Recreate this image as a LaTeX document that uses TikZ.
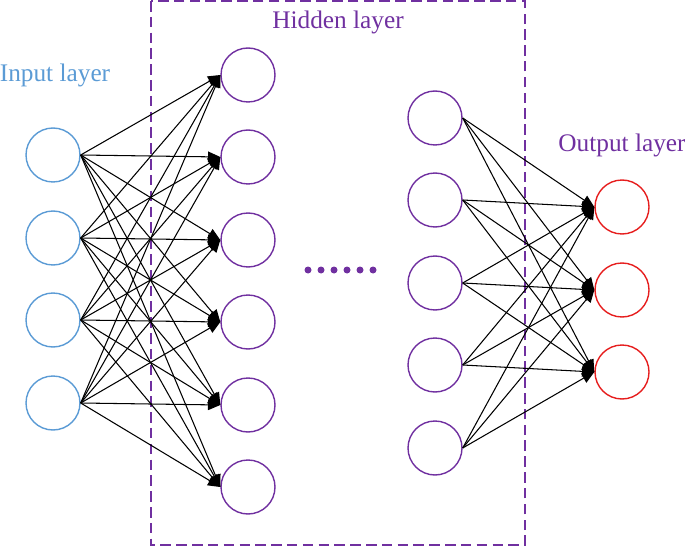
\documentclass[tikz,border=0pt]{standalone}
\usepackage{fontspec}
\setmainfont{Liberation Serif}
\usetikzlibrary{arrows.meta}
\definecolor{inblue}{RGB}{91,155,213}
\definecolor{hidpurple}{RGB}{112,48,160}
\definecolor{outred}{RGB}{230,30,30}
\tikzset{
  neuron/.style={circle,minimum size=1.08cm,inner sep=0pt,thick},
  link/.style={-{Triangle[length=7pt,width=6pt]},black,semithick},
}
\begin{document}
\begin{tikzpicture}[x=0.02cm,y=-0.02cm]
\useasboundingbox (0,0) rectangle (685,550);
\draw[hidpurple,dash pattern=on 6pt off 3pt,thick] (151,1) rectangle (525,545);

\foreach \i/\y in {1/155,2/238,3/320,4/403}
  \node[neuron,draw=inblue] (in\i) at (53,\y) {};
\foreach \i/\y in {1/75,2/157,3/240,4/322,5/405,6/487}
  \node[neuron,draw=hidpurple] (ha\i) at (248,\y) {};
\foreach \i/\y in {1/118,2/200,3/283,4/365,5/448}
  \node[neuron,draw=hidpurple] (hb\i) at (435,\y) {};
\foreach \i/\y in {1/207,2/290,3/372}
  \node[neuron,draw=outred] (out\i) at (622,\y) {};

\foreach \i in {1,...,4}
  \foreach \j in {1,...,6}
    \draw[link] (in\i.east) -- (ha\j.west);
\foreach \i in {1,...,5}
  \foreach \j in {1,...,3}
    \draw[link] (hb\i.east) -- (out\j.west);

\foreach \x in {308,321,...,375}
  \fill[hidpurple] (\x,270) circle (3.5);

\node[inblue,font=\Large] (inlabel) at (55,75) {Input layer};
\node[hidpurple,font=\Large] (hidlabel) at (338,22) {Hidden layer};
\node[hidpurple,font=\Large] (outlabel) at (622,145) {Output layer};
\end{tikzpicture}
\end{document}
